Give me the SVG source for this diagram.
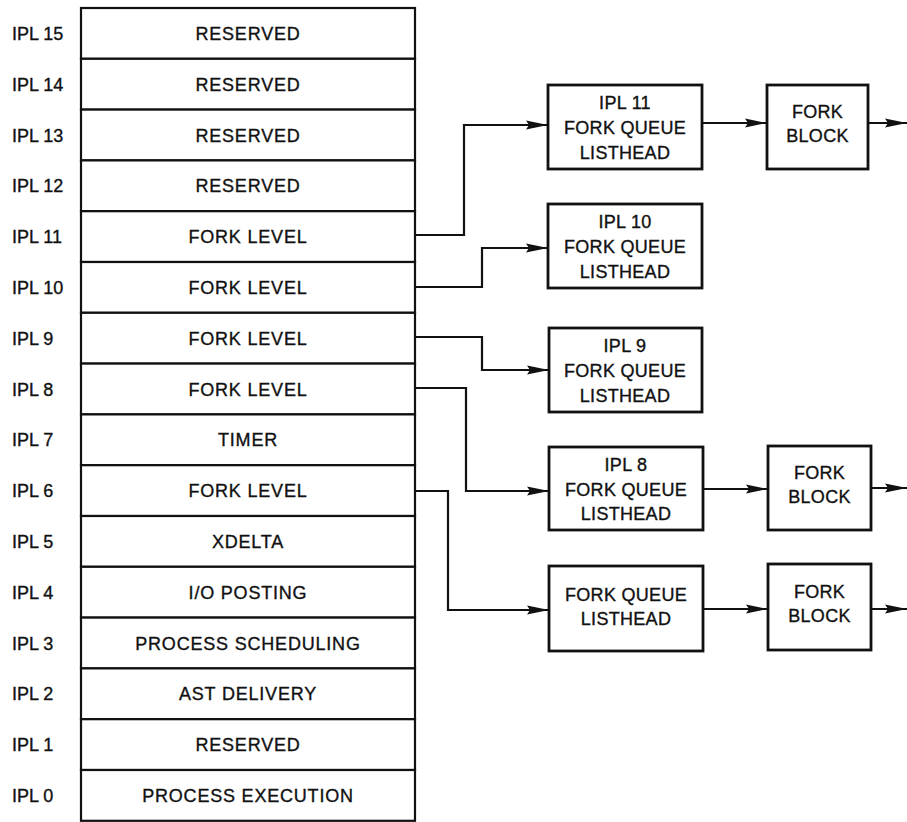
<svg xmlns="http://www.w3.org/2000/svg" width="907" height="822" viewBox="0 0 907 822">
<style>
  .t{font-family:"Liberation Sans",Arial,sans-serif;font-size:18px;fill:#111;stroke:#111;stroke-width:0.35;}
  .c{text-anchor:middle;letter-spacing:0.8px;}
  .lbl{text-anchor:start;}
  .b{text-anchor:middle;letter-spacing:0.3px;}
  .row{fill:#fff;stroke:#111;stroke-width:2.2;}
  .box{fill:#fff;stroke:#111;stroke-width:2.8;}
  .ln{fill:none;stroke:#111;stroke-width:2.2;}
</style>
<defs>
  <marker id="ah" viewBox="0 0 22 10" markerWidth="22" markerHeight="10" refX="22" refY="5" orient="auto" markerUnits="userSpaceOnUse">
    <path d="M0,0.5 L22,5 L0,9.5 L3,5 z" fill="#111"/>
  </marker>
</defs>
<rect width="907" height="822" fill="#fff"/>

<g id="table">
  <g id="ipl15"><rect class="row" x="81" y="8" width="334" height="50.8"/><text class="t lbl" x="12" y="39.9">IPL 15</text><text class="t c" x="248" y="39.9">RESERVED</text></g>
  <g id="ipl14"><rect class="row" x="81" y="58.8" width="334" height="50.8"/><text class="t lbl" x="12" y="90.7">IPL 14</text><text class="t c" x="248" y="90.7">RESERVED</text></g>
  <g id="ipl13"><rect class="row" x="81" y="109.6" width="334" height="50.8"/><text class="t lbl" x="12" y="141.5">IPL 13</text><text class="t c" x="248" y="141.5">RESERVED</text></g>
  <g id="ipl12"><rect class="row" x="81" y="160.4" width="334" height="50.8"/><text class="t lbl" x="12" y="192.3">IPL 12</text><text class="t c" x="248" y="192.3">RESERVED</text></g>
  <g id="ipl11"><rect class="row" x="81" y="211.2" width="334" height="50.8"/><text class="t lbl" x="12" y="243.1">IPL 11</text><text class="t c" x="248" y="243.1">FORK LEVEL</text></g>
  <g id="ipl10"><rect class="row" x="81" y="262" width="334" height="50.8"/><text class="t lbl" x="12" y="293.9">IPL 10</text><text class="t c" x="248" y="293.9">FORK LEVEL</text></g>
  <g id="ipl9"><rect class="row" x="81" y="312.8" width="334" height="50.8"/><text class="t lbl" x="12" y="344.7">IPL 9</text><text class="t c" x="248" y="344.7">FORK LEVEL</text></g>
  <g id="ipl8"><rect class="row" x="81" y="363.6" width="334" height="50.8"/><text class="t lbl" x="12" y="395.5">IPL 8</text><text class="t c" x="248" y="395.5">FORK LEVEL</text></g>
  <g id="ipl7"><rect class="row" x="81" y="414.4" width="334" height="50.8"/><text class="t lbl" x="12" y="446.3">IPL 7</text><text class="t c" x="248" y="446.3">TIMER</text></g>
  <g id="ipl6"><rect class="row" x="81" y="465.2" width="334" height="50.8"/><text class="t lbl" x="12" y="497.1">IPL 6</text><text class="t c" x="248" y="497.1">FORK LEVEL</text></g>
  <g id="ipl5"><rect class="row" x="81" y="516" width="334" height="50.8"/><text class="t lbl" x="12" y="547.9">IPL 5</text><text class="t c" x="248" y="547.9">XDELTA</text></g>
  <g id="ipl4"><rect class="row" x="81" y="566.8" width="334" height="50.8"/><text class="t lbl" x="12" y="598.7">IPL 4</text><text class="t c" x="248" y="598.7">I/O POSTING</text></g>
  <g id="ipl3"><rect class="row" x="81" y="617.6" width="334" height="50.8"/><text class="t lbl" x="12" y="649.5">IPL 3</text><text class="t c" x="248" y="649.5">PROCESS SCHEDULING</text></g>
  <g id="ipl2"><rect class="row" x="81" y="668.4" width="334" height="50.8"/><text class="t lbl" x="12" y="700.3">IPL 2</text><text class="t c" x="248" y="700.3">AST DELIVERY</text></g>
  <g id="ipl1"><rect class="row" x="81" y="719.2" width="334" height="50.8"/><text class="t lbl" x="12" y="751.1">IPL 1</text><text class="t c" x="248" y="751.1">RESERVED</text></g>
  <g id="ipl0"><rect class="row" x="81" y="770" width="334" height="50.8"/><text class="t lbl" x="12" y="801.9">IPL 0</text><text class="t c" x="248" y="801.9">PROCESS EXECUTION</text></g>
</g>

<g id="lh11"><rect class="box" x="548" y="85" width="154" height="84"/>
  <text class="t b" x="625" y="109">IPL 11</text><text class="t b" x="625" y="134">FORK QUEUE</text><text class="t b" x="625" y="159">LISTHEAD</text></g>
<g id="fb11"><rect class="box" x="767" y="85" width="101" height="84"/>
  <text class="t b" x="817.5" y="118">FORK</text><text class="t b" x="817.5" y="142">BLOCK</text></g>
<g id="lh10"><rect class="box" x="548" y="204" width="154" height="84"/>
  <text class="t b" x="625" y="228">IPL 10</text><text class="t b" x="625" y="253">FORK QUEUE</text><text class="t b" x="625" y="278">LISTHEAD</text></g>
<g id="lh9"><rect class="box" x="549" y="328" width="153" height="84"/>
  <text class="t b" x="625" y="352">IPL 9</text><text class="t b" x="625" y="377">FORK QUEUE</text><text class="t b" x="625" y="402">LISTHEAD</text></g>
<g id="lh8"><rect class="box" x="549" y="447" width="154" height="83"/>
  <text class="t b" x="626" y="471">IPL 8</text><text class="t b" x="626" y="496">FORK QUEUE</text><text class="t b" x="626" y="520">LISTHEAD</text></g>
<g id="fb8"><rect class="box" x="768" y="446" width="103" height="84"/>
  <text class="t b" x="819.5" y="479">FORK</text><text class="t b" x="819.5" y="503">BLOCK</text></g>
<g id="lh6"><rect class="box" x="549" y="566" width="154" height="85"/>
  <text class="t b" x="626" y="601">FORK QUEUE</text><text class="t b" x="626" y="625">LISTHEAD</text></g>
<g id="fb6"><rect class="box" x="768" y="564" width="103" height="86"/>
  <text class="t b" x="819.5" y="598">FORK</text><text class="t b" x="819.5" y="622">BLOCK</text></g>

<g id="connectors">
  <polyline class="ln" points="415,235 464,235 464,125 548,125" marker-end="url(#ah)"/>
  <polyline class="ln" points="415,287 482,287 482,248 548,248" marker-end="url(#ah)"/>
  <polyline class="ln" points="415,337 482,337 482,370 549,370" marker-end="url(#ah)"/>
  <polyline class="ln" points="415,388 466,388 466,491 549,491" marker-end="url(#ah)"/>
  <polyline class="ln" points="415,491 448,491 448,610 549,610" marker-end="url(#ah)"/>
  <line class="ln" x1="702" y1="123" x2="767" y2="123" marker-end="url(#ah)"/>
  <line class="ln" x1="868" y1="123" x2="907" y2="123" marker-end="url(#ah)"/>
  <line class="ln" x1="703" y1="489" x2="768" y2="489" marker-end="url(#ah)"/>
  <line class="ln" x1="871" y1="488" x2="907" y2="488" marker-end="url(#ah)"/>
  <line class="ln" x1="703" y1="609" x2="768" y2="609" marker-end="url(#ah)"/>
  <line class="ln" x1="871" y1="609" x2="907" y2="609" marker-end="url(#ah)"/>
</g>
</svg>
